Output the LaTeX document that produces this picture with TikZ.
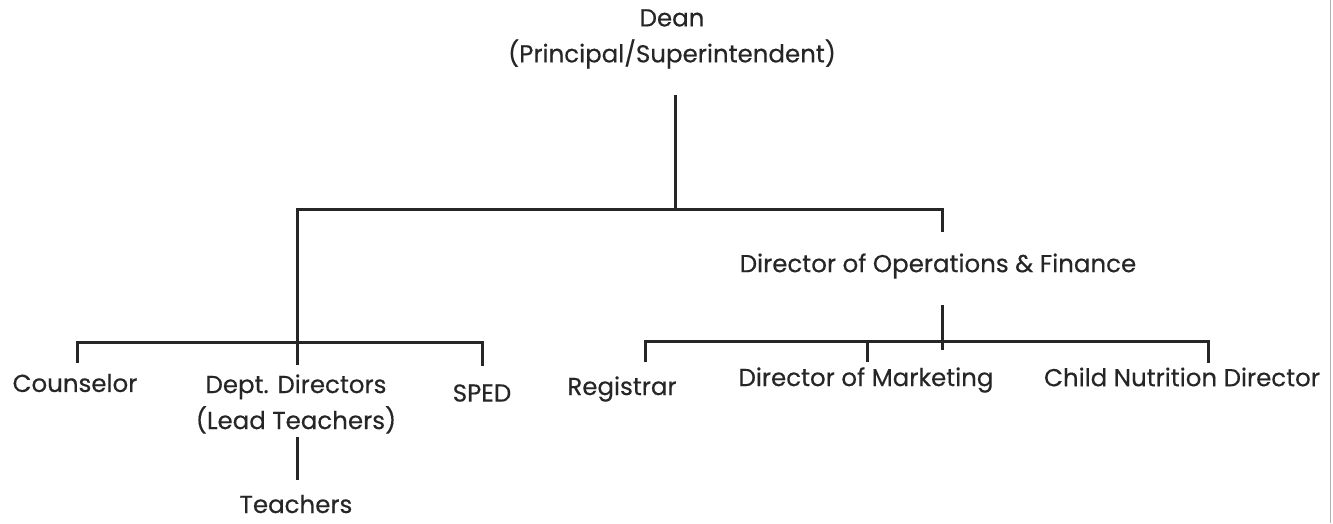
\documentclass[tikz,border=0pt]{standalone}
\usepackage{fontspec}
\setmainfont{Poppins}[FakeBold=0.4]
\begin{document}
\begin{tikzpicture}[x=1pt,y=-1pt,
  lbl/.style={font=\fontsize{24.5}{36}\selectfont, text=black!85, inner sep=0pt, align=center},
  wire/.style={line width=3pt, draw=black!85}]
\useasboundingbox[fill=white] (0,0) rectangle (1333,523);
\draw[gray!60, line width=1pt] (1330,0) -- (1330,523);
% labels
\node[lbl] (dean) at (672,39) {Dean\\(Principal/Superintendent)};
\node[lbl] (ops) at (938,266) {Director of Operations \& Finance};
\node[lbl] (couns) at (75,383) {Counselor};
\node[lbl] (dept) at (296,404) {Dept. Directors\\(Lead Teachers)};
\node[lbl] (sped) at (482,393) {SPED};
\node[lbl] (reg) at (622,389) {Registrar};
\node[lbl] (mkt) at (866,380) {Director of Marketing};
\node[lbl] (cnd) at (1182,377) {Child Nutrition Director};
\node[lbl, text depth=0pt, anchor=base] (teach) at (296,513) {Teachers};
% junctions
\coordinate (d0) at (675,95);
\coordinate (d1) at (675,209);
\coordinate (l1) at (297,209);
\coordinate (r1) at (942,209);
\coordinate (r2) at (942,232);
\coordinate (l2) at (297,365);
\coordinate (c1) at (77,342);
\coordinate (c2) at (77,363);
\coordinate (s1) at (482,342);
\coordinate (s2) at (482,366);
\coordinate (o0) at (942,305);
\coordinate (o1) at (942,350);
\coordinate (g1) at (645,341);
\coordinate (g2) at (645,362);
\coordinate (m1) at (867,341);
\coordinate (m2) at (867,362);
\coordinate (n1) at (1208,341);
\coordinate (n2) at (1208,363);
\coordinate (t1) at (297,437);
\coordinate (t2) at (297,480);
% connectors
\draw[wire] (d0) -- (d1);
\draw[wire] (l2) -- (l1) -- (r1) -- (r2);
\draw[wire] (c2) -- (c1) -- (s1) -- (s2);
\draw[wire] (o0) -- (o1);
\draw[wire] (g2) -- (g1) -- (n1) -- (n2);
\draw[wire] (m1) -- (m2);
\draw[wire] (t1) -- (t2);
\end{tikzpicture}
\end{document}
